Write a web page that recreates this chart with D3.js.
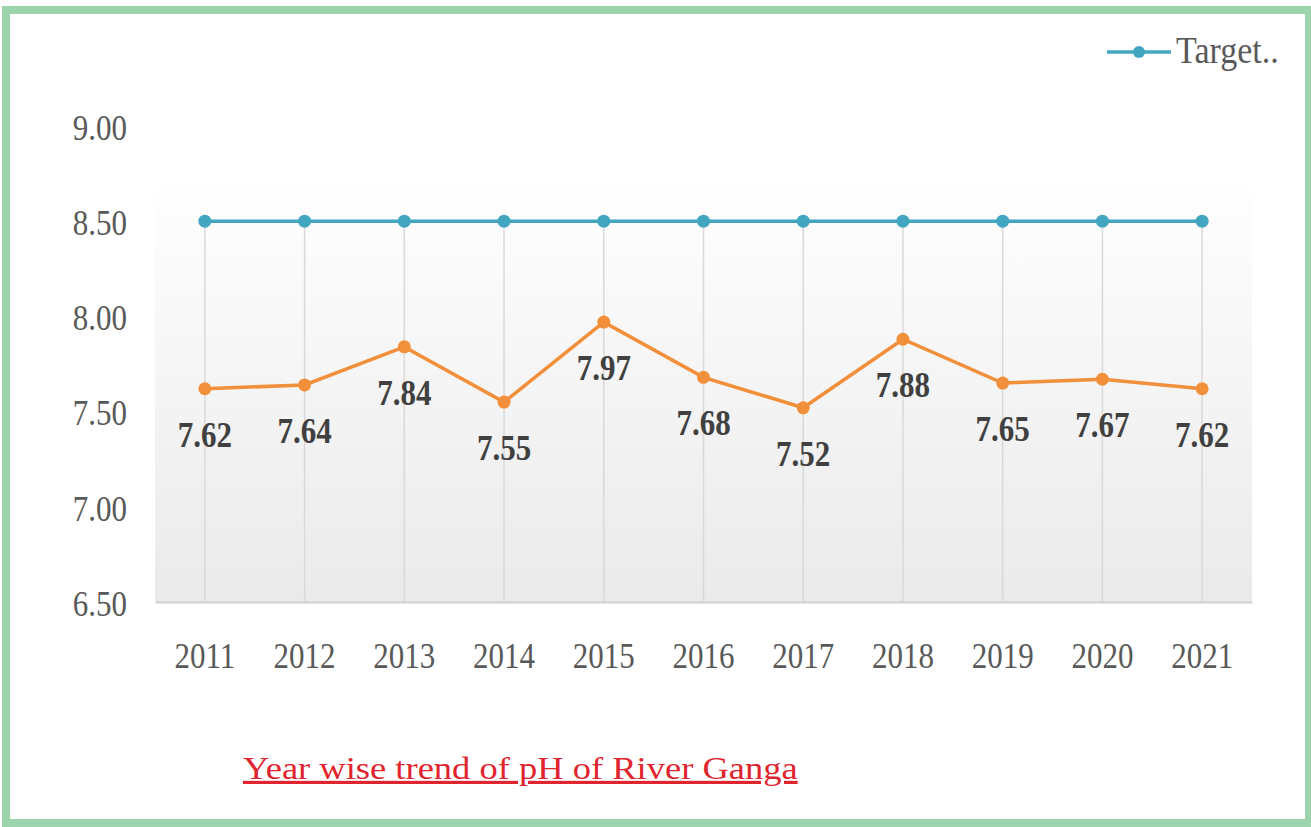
<!DOCTYPE html>
<html>
<head>
<meta charset="utf-8">
<script src="https://cdn.jsdelivr.net/npm/d3@7"></script>
<style>
  html, body { margin: 0; padding: 0; background: #fff; }
</style>
</head>
<body>
<div id="chart"></div>
<script>
var years = ['2011', '2012', '2013', '2014', '2015', '2016', '2017', '2018', '2019', '2020', '2021']
var ph = [7.62, 7.64, 7.84, 7.55, 7.97, 7.68, 7.52, 7.88, 7.65, 7.67, 7.62]
var target = [8.5, 8.5, 8.5, 8.5, 8.5, 8.5, 8.5, 8.5, 8.5, 8.5, 8.5]
var yTicks = [6.5, 7.0, 7.5, 8.0, 8.5, 9.0]
var legendLabel = 'Target..'
var title = 'Year wise trend of pH of River Ganga'

var W = 1311, H = 827
var serif = '"Liberation Serif", "Times New Roman", serif'
var stretch = 1.13   // text in the picture is a bit taller than it is wide
var margin = {top: 126, right: 59, bottom: 225, left: 155},
    width = W - margin.left - margin.right,
    height = H - margin.top - margin.bottom;

var svg = d3.select('#chart')
  .append('svg')
    .attr('width', W)
    .attr('height', H)

// green frame
svg.append('rect')
    .attr('x', 6).attr('y', 10)
    .attr('width', W - 8).attr('height', H - 14)
    .attr('fill', 'none')
    .attr('stroke', '#9dd3ad')
    .attr('stroke-width', 8)

var defs = svg.append('defs')
var grad = defs.append('linearGradient')
    .attr('id', 'bg').attr('x1', 0).attr('y1', 0).attr('x2', 0).attr('y2', 1)
grad.append('stop').attr('offset', '0%').attr('stop-color', '#ffffff')
grad.append('stop').attr('offset', '100%').attr('stop-color', '#eaeaea')

var g = svg.append('g')
    .attr('transform', 'translate(' + margin.left + ',' + margin.top + ')')

var x = d3.scaleBand()
    .domain(years)
    .range([0, width])

var y = d3.scaleLinear()
    .domain([6.5, 9.0])
    .range([height, 0])

var cx = function(d, i){ return x(years[i]) + x.bandwidth()/2 }

// plot background
g.append('rect')
    .attr('x', 0)
    .attr('y', y(8.75))
    .attr('width', width)
    .attr('height', height - y(8.75))
    .attr('fill', 'url(#bg)')

// vertical drop lines
g.selectAll('vline')
  .data(years)
  .enter()
  .append('line')
    .attr('x1', function(d){ return x(d) + x.bandwidth()/2 })
    .attr('x2', function(d){ return x(d) + x.bandwidth()/2 })
    .attr('y1', y(8.5))
    .attr('y2', height)
    .attr('stroke', '#d9d9d9')
    .attr('stroke-width', 1.5)

// x axis
var xAxis = g.append('g')
    .attr('transform', 'translate(0,' + height + ')')
    .call(d3.axisBottom(x).tickSize(0).tickPadding(36))
xAxis.select('.domain').attr('stroke', '#d0d0d0').attr('stroke-width', 2)
xAxis.selectAll('text')
    .attr('transform', 'scale(1,' + stretch + ')')
    .style('font-family', serif)
    .style('font-size', '31px')
    .attr('fill', '#595959')

// y axis
var yAxis = g.append('g')
    .call(d3.axisLeft(y).tickValues(yTicks).tickFormat(d3.format('.2f')).tickSize(0).tickPadding(28))
yAxis.select('.domain').remove()
yAxis.selectAll('text')
    .attr('transform', 'scale(1,' + stretch + ')')
    .attr('dy', '0.38em')
    .style('font-family', serif)
    .style('font-size', '31px')
    .attr('fill', '#595959')

var line = d3.line()
    .x(cx)
    .y(function(d){ return y(d) })

// target line
g.append('path')
    .datum(target)
    .attr('d', line)
    .attr('fill', 'none')
    .attr('stroke', '#42a6c1')
    .attr('stroke-width', 3.5)
g.selectAll('tdot')
  .data(target)
  .enter()
  .append('circle')
    .attr('cx', cx)
    .attr('cy', function(d){ return y(d) })
    .attr('r', 6.5)
    .attr('fill', '#42a6c1')

// pH line
g.append('path')
    .datum(ph)
    .attr('d', line)
    .attr('fill', 'none')
    .attr('stroke', '#f28f3b')
    .attr('stroke-width', 3.5)
g.selectAll('pdot')
  .data(ph)
  .enter()
  .append('circle')
    .attr('cx', cx)
    .attr('cy', function(d){ return y(d) })
    .attr('r', 6.5)
    .attr('fill', '#f28f3b')

// data labels, below each point
g.selectAll('plabel')
  .data(ph)
  .enter()
  .append('text')
    .attr('transform', function(d, i){
        return 'translate(' + cx(d, i) + ',' + (y(d) + 58) + ') scale(1,' + stretch + ')' })
    .attr('text-anchor', 'middle')
    .style('font-family', serif)
    .style('font-size', '31px')
    .style('font-weight', 'bold')
    .attr('fill', '#404040')
    .text(function(d){ return d3.format('.2f')(d) })

// legend
var lg = svg.append('g').attr('transform', 'translate(1107,52)')
lg.append('line')
    .attr('x1', 0).attr('x2', 64).attr('y1', 0).attr('y2', 0)
    .attr('stroke', '#42a6c1').attr('stroke-width', 3.5)
lg.append('circle').attr('cx', 32).attr('cy', 0).attr('r', 6).attr('fill', '#42a6c1')
lg.append('text')
    .attr('transform', 'translate(69,11) scale(1,' + stretch + ')')
    .style('font-family', serif)
    .style('font-size', '34px')
    .attr('fill', '#595959')
    .text(legendLabel)

// caption (wider than tall in the picture)
svg.append('text')
    .attr('transform', 'translate(243,779) scale(1,0.86)')
    .style('font-family', serif)
    .style('font-size', '36.5px')
    .style('text-decoration', 'underline')
    .attr('fill', '#e0242e')
    .text(title)
</script>
</body>
</html>
